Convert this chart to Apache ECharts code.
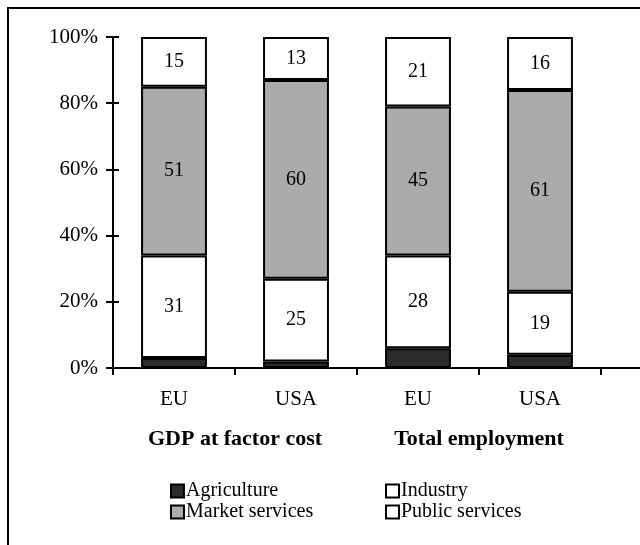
<!DOCTYPE html>
<html><head><meta charset="utf-8">
<script src="https://cdn.jsdelivr.net/npm/echarts@6/dist/echarts.min.js"></script>
<style>html,body{margin:0;padding:0;background:#fff}#c{width:640px;height:545px}</style>
</head><body><div id="c"></div>
<script>
const countries = ['EU', 'USA', 'EU', 'USA'];
const groups = ['GDP at factor cost', 'Total employment'];
const agriculture = [3, 2, 6, 4];
const industry = [31, 25, 28, 19];
const marketServices = [51, 60, 45, 61];
const publicServices = [15, 13, 21, 16];
const yTicks = [0, 20, 40, 60, 80, 100];

const F = 'Liberation Serif, Times New Roman, serif';
const chart = echarts.init(document.getElementById('c'));
const lbl = {show: true, position: 'inside', color: '#000', fontFamily: F, fontSize: 20};
const border = {borderColor: '#000', borderWidth: 2};
function bar(name, data, color, showLabel) {
  return {name, type: 'bar', stack: 'all', data, barWidth: '54%',
    itemStyle: Object.assign({color}, border),
    label: showLabel ? lbl : {show: false}};
}
function leg(name, left, top) {
  return {data: [name], left, top, itemWidth: 13, itemHeight: 13, icon: 'rect',
    textStyle: {fontFamily: F, fontSize: 20, color: '#000', padding: [0, 0, 0, -3]}};
}
chart.setOption({
  animation: false,
  grid: {left: 113, top: 37, width: 488, height: 331},
  xAxis: [
    {type: 'category', data: countries, position: 'bottom',
     axisLine: {lineStyle: {color: '#000', width: 2}},
     axisTick: {show: true, length: 7, lineStyle: {color: '#000', width: 2}},
     axisLabel: {color: '#000', fontFamily: F, fontSize: 21, margin: 21}},
    {type: 'category', data: groups, position: 'bottom', offset: 50,
     axisLine: {show: false}, axisTick: {show: false},
     axisLabel: {color: '#000', fontFamily: F, fontSize: 22, fontWeight: 'bold', margin: 10}}
  ],
  yAxis: [
    {type: 'value', min: yTicks[0], max: yTicks[yTicks.length - 1], interval: 20,
     axisLine: {show: true, lineStyle: {color: '#000', width: 2}},
     axisTick: {show: true, length: 7, lineStyle: {color: '#000', width: 2}},
     splitLine: {show: false},
     axisLabel: {formatter: '{value}%', color: '#000', fontFamily: F, fontSize: 21, margin: 15}},
    {type: 'value', min: 0, max: 100, interval: 20, position: 'left',
     axisLine: {show: false},
     axisTick: {show: true, inside: true, length: 6, lineStyle: {color: '#000', width: 2}},
     splitLine: {show: false}, axisLabel: {show: false}}
  ],
  legend: [
    leg('Agriculture', 165, 476),
    leg('Industry', 380, 476),
    leg('Market services', 165, 497),
    leg('Public services', 380, 497)
  ],
  graphic: [
    {type: 'polyline', shape: {points: [[8, 545], [8, 8], [640, 8]]}, style: {stroke: '#000', lineWidth: 2, fill: null}},
    {type: 'line', shape: {x1: 601, y1: 368, x2: 640, y2: 368}, style: {stroke: '#000', lineWidth: 2}}
  ],
  series: [
    bar('Agriculture', agriculture, '#2b2b2b', false),
    bar('Industry', industry, '#ffffff', true),
    bar('Market services', marketServices, '#ababab', true),
    bar('Public services', publicServices, '#ffffff', true)
  ]
});
</script></body></html>
